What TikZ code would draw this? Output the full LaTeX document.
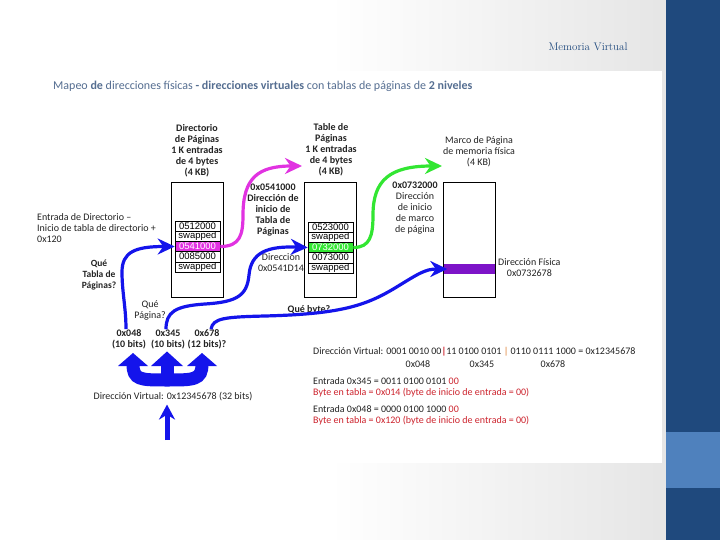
\documentclass[tikz,border=0pt]{standalone}
\usepackage{fontspec}
\newfontfamily\calfont{Carlito}
\newfontfamily\arlfont{Liberation Sans}
\usetikzlibrary{arrows.meta}
\definecolor{bandblue}{RGB}{31,73,125}
\definecolor{lightband}{RGB}{79,129,189}
\definecolor{titleblue}{RGB}{85,110,145}
\definecolor{arrowblue}{RGB}{20,20,235}
\definecolor{mag}{RGB}{225,50,225}
\definecolor{grn}{RGB}{50,230,50}
\definecolor{purp}{RGB}{125,20,200}
\definecolor{redt}{RGB}{205,35,45}
\definecolor{orgt}{RGB}{220,120,40}
\definecolor{txt}{RGB}{35,35,35}
\begin{document}
\begin{tikzpicture}[x=1pt,y=-1pt,
  tbl/.style={draw, line width=0.8, inner sep=0, minimum width=52, minimum height=115},
  row/.style={draw, line width=0.6, inner sep=0, minimum width=45, minimum height=10.2, font=\arlfont\fontsize{9.5}{10}\selectfont},
  lab/.style={inner sep=0, align=center, text=txt, font=\calfont\fontsize{10}{11}\selectfont},
  hdr/.style={lab, font=\calfont\bfseries\fontsize{10}{11}\selectfont},
  info/.style={inner sep=0, anchor=west, text=txt, font=\calfont\fontsize{10}{11}\selectfont},
  conn/.style={line width=3.2, -{Stealth[length=17pt,width=16pt]}},
]
\useasboundingbox (0,0) rectangle (720,540);
% background
\fill[white] (0,0) rectangle (720,540);
\shade[left color=white, right color=black!10] (330,0) rectangle (666,540);
\fill[white] (20,71) rectangle (662,463);
\fill[bandblue] (666,0) rectangle (720,540);
\fill[lightband] (666,432) rectangle (720,488);
\node[inner sep=0, text=bandblue, font=\fontsize{11}{13}\selectfont] (mv) at (588,47) {Memoria Virtual};
% title
\node[inner sep=0, anchor=west, text=titleblue, font=\calfont\fontsize{12}{14}\selectfont] (title) at (53,86)
  {Mapeo \textbf{de} direcciones físicas \textbf{- direcciones virtuales} con tablas de páginas de \textbf{2 niveles}};
% tables
\node[tbl] (dir) at (197,239.5) {};
\node[tbl] (pt) at (330.5,239.5) {};
\node[fill=purp, inner sep=0, minimum width=52, minimum height=10] (phys) at (469.5,269) {};
\node[tbl] (frame) at (469.5,239.5) {};
% directory rows
\node[row] (dr1) at (197.5,226.1) {0512000};
\node[row] (dr2) at (197.5,236.3) {swapped};
\node[row, fill=mag, text=white] (dr3) at (197.5,246.5) {0541000};
\node[row] (dr4) at (197.5,256.7) {0085000};
\node[row] (dr5) at (197.5,266.9) {swapped};
% page table rows
\node[row] (pr1) at (330.5,227.1) {0523000};
\node[row] (pr2) at (330.5,237.3) {swapped};
\node[row, fill=grn, text=white] (pr3) at (330.5,247.5) {0732000};
\node[row] (pr4) at (330.5,257.7) {0073000};
\node[row] (pr5) at (330.5,267.9) {swapped};
% headers
\node[hdr] (dirlbl) at (197,150.5) {Directorio\\de Páginas\\1 K entradas\\de 4 bytes\\(4 KB)};
\node[hdr] (ptlbl) at (331,150) {Table de\\Páginas\\1 K entradas\\de 4 bytes\\(4 KB)};
\node[lab] (frlbl) at (479,152) {Marco de Página\\de memoria física\\(4 KB)};
% side labels
\node[lab, align=left, anchor=west] (entlbl) at (37,228.5) {Entrada de Directorio –\\Inicio de tabla de directorio +\\0x120};
\node[hdr, font=\calfont\bfseries\fontsize{9.5}{11}\selectfont] (quetp) at (99,275.5) {Qué\\Tabla de\\Páginas?};
\node[hdr] (ptaddr) at (273,210) {0x0541000\\Dirección de\\inicio de\\Tabla de\\Páginas};
\node[lab] (dirent) at (281,262.8) {Dirección\\0x0541D14};
\node[lab] (fraddr) at (415,208) {\textbf{0x0732000}\\Dirección\\de inicio\\de marco\\de página};
\node[lab, anchor=west] (physlbl) at (498,268) {Dirección Física\\0x0732678};
\node[lab] (quepag) at (150,310) {Qué\\Página?};
\node[hdr] (b048) at (129,339) {0x048\\(10 bits)};
\node[hdr] (b345) at (168,339) {0x345\\(10 bits)};
\node[hdr] (b678) at (207,339) {0x678\\(12 bits)?};
\node[hdr] (quebyte) at (309,310) {Qué byte?};
\node[lab] (dv) at (173,397) {Dirección Virtual: 0x12345678 (32 bits)};
% info block
\node[info] (bin) at (313,352) {Dirección Virtual: 0001 0010 00{\color{redt}\textbf{|}}11 0100 0101 {\color{orgt}|} 0110 0111 1000 = 0x12345678};
\node[lab] (h048) at (418,364) {0x048};
\node[lab] (h345) at (482,364) {0x345};
\node[lab] (h678) at (553,364) {0x678};
\node[info] (e345) at (313,381) {Entrada 0x345 = 0011 0100 0101 {\color{redt}00}};
\node[info, text=redt] (y345) at (313,392.5) {Byte en tabla = 0x014 (byte de inicio de entrada = 00)};
\node[info] (e048) at (313,409) {Entrada 0x048 = 0000 0100 1000 {\color{redt}00}};
\node[info, text=redt] (y048) at (313,420.5) {Byte en tabla = 0x120 (byte de inicio de entrada = 00)};
% connectors
\coordinate (magend) at (302,166);
\coordinate (grnend) at (442,166);
\draw[conn, mag] (dr3.east) .. controls (240,246.5) and (243,235) .. (243,215)
  .. controls (243,178) and (258,166) .. (magend);
\draw[conn, grn] (pr3.east) .. controls (370,247.5) and (373,236) .. (373,215)
  .. controls (373,180) and (390,166) .. (grnend);
\draw[conn, arrowblue] ([xshift=-3]b048.north) .. controls (126,308) and (122,292) .. (122,272)
  .. controls (122,252) and (135,246.5) .. (dr3.west);
\draw[conn, arrowblue] ([xshift=-2]b345.north) .. controls (166,312) and (175,306) .. (205,304)
  .. controls (238,302) and (247,295) .. (249,275)
  .. controls (251,252) and (268,246) .. (pr3.west);
\draw[conn, arrowblue] ([xshift=4]b678.north) .. controls (213,318) and (225,317) .. (265,316)
  .. controls (340,314) and (365,306) .. (395,288)
  .. controls (418,274) and (425,269) .. ([xshift=4]phys.west);
% trident
\draw[arrowblue, line width=13] (133,364) .. controls (133,380) and (140,380) .. (167,380)
  .. controls (194,380) and (202,380) .. (202,364);
\draw[arrowblue, line width=13] (167,380) -- (167,364);
\fill[arrowblue] (118,366) -- (133,353) -- (148,366) -- cycle;
\fill[arrowblue] (151,366) -- (167,351.5) -- (183,366) -- cycle;
\fill[arrowblue] (187,366) -- (202,353) -- (217,366) -- cycle;
% input arrow
\coordinate (vin) at (167,440);
\draw[arrowblue, line width=5, -{Stealth[length=15pt,width=16pt]}, shorten >=3] (vin) -- (vin |- dv.south);
\end{tikzpicture}
\end{document}
